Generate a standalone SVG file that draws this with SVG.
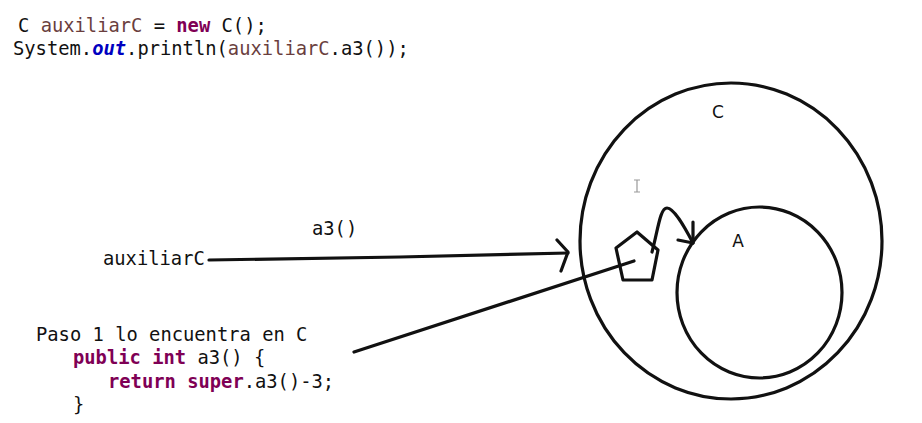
<svg xmlns="http://www.w3.org/2000/svg" width="922" height="423" viewBox="0 0 922 423">
<style>
  .code { font-family: "DejaVu Sans Mono", "Liberation Mono", monospace; font-size: 18.8px; fill: #111; }
  .kw { fill: #7F0055; font-weight: bold; }
  .var { fill: #6A3E3E; }
  .fld { fill: #0000C0; font-weight: bold; font-style: italic; }
  .lbl { font-family: "DejaVu Sans", "Open Sans", sans-serif; font-size: 17px; fill: #111; }
  .ink { fill: none; stroke: #111; stroke-width: 3.2; stroke-linecap: round; stroke-linejoin: round; }
</style>
<rect width="922" height="423" fill="#fff"/>
<g id="code-top">
  <text class="code" x="18" y="32">C <tspan class="var">auxiliarC</tspan> = <tspan class="kw">new</tspan> C();</text>
  <text class="code" x="13" y="55">System.<tspan class="fld">out</tspan>.println(<tspan class="var">auxiliarC</tspan>.a3());</text>
</g>
<g id="code-bottom">
  <text class="code" x="36" y="341">Paso 1 lo encuentra en C</text>
  <text class="code" x="73" y="364"><tspan class="kw">public</tspan> <tspan class="kw">int</tspan> a3() {</text>
  <text class="code" x="108" y="388"><tspan class="kw">return</tspan> <tspan class="kw">super</tspan>.a3()-3;</text>
  <text class="code" x="73" y="411">}</text>
</g>
<g id="node-auxiliarC">
  <text class="code" x="103" y="265">auxiliarC</text>
</g>
<g id="node-C">
  <ellipse class="ink" cx="731" cy="241" rx="151" ry="158"/>
  <text class="lbl" x="718" y="118" text-anchor="middle">C</text>
</g>
<g id="node-A">
  <ellipse class="ink" cx="759.5" cy="292.5" rx="82.5" ry="85.5"/>
  <text class="lbl" x="738" y="247" text-anchor="middle">A</text>
</g>
<g id="node-method">
  <polygon class="ink" points="637,232 658,250 652,280 623,280 616,248"/>
</g>
<g id="cursor">
  <path d="M634,180 H640 M637,180 V192 M634,192 H640" fill="none" stroke="#999" stroke-width="1.2"/>
</g>
<g id="connectors">
  <path class="ink" d="M209,260 L400,257 L568,253"/>
  <path class="ink" d="M557,240 L568,252 L561,271"/>
  <text class="code" x="312" y="235">a3()</text>
  <path class="ink" d="M634,261 L354,352"/>
  <path class="ink" d="M652,252 C658,230 660,208 667,208 C674,208 684,226 693,243"/>
  <path class="ink" d="M693,222 L693,243 L678,240"/>
</g>
</svg>
